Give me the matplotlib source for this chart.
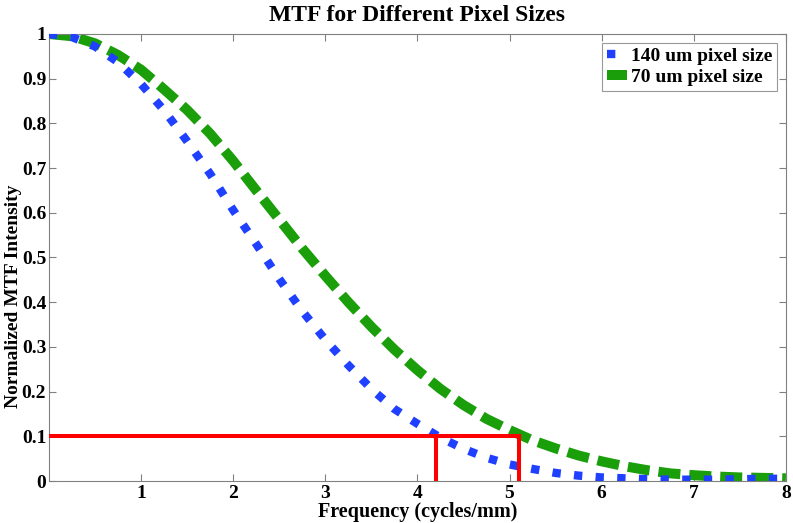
import matplotlib
matplotlib.use("Agg")
import matplotlib.pyplot as plt

freq = [0.0, 0.25, 0.5, 0.75, 1.0, 1.25, 1.5, 1.75, 2.0, 2.25, 2.5, 2.75, 3.0,
        3.25, 3.5, 3.75, 4.0, 4.25, 4.5, 4.75, 5.0, 5.25, 5.5, 5.75, 6.0,
        6.25, 6.5, 6.75, 7.0, 7.25, 7.5, 7.75, 8.0]
mtf_140 = [1.0, 0.993, 0.972, 0.937, 0.888, 0.829, 0.760, 0.687, 0.606, 0.530,
           0.452, 0.380, 0.316, 0.259, 0.206, 0.161, 0.128, 0.097, 0.072, 0.052,
           0.037, 0.027, 0.018, 0.012, 0.008, 0.006, 0.004, 0.003, 0.003, 0.003,
           0.004, 0.005, 0.005]
mtf_70 = [1.0, 0.995, 0.979, 0.953, 0.920, 0.876, 0.830, 0.777, 0.716, 0.650,
          0.585, 0.520, 0.459, 0.400, 0.345, 0.294, 0.248, 0.206, 0.170, 0.139,
          0.114, 0.091, 0.073, 0.057, 0.044, 0.033, 0.024, 0.017, 0.013, 0.010,
          0.008, 0.007, 0.006]
threshold = 0.1
cutoff_140 = 4.2
cutoff_70 = 5.1
labels = ["140 um pixel size", "70 um pixel size"]
xticks = [1, 2, 3, 4, 5, 6, 7, 8]
yticks = [0, 0.1, 0.2, 0.3, 0.4, 0.5, 0.6, 0.7, 0.8, 0.9, 1]
yticklabels = ['0', '0.1', '0.2', '0.3', '0.4', '0.5', '0.6', '0.7', '0.8', '0.9', '1']

plt.rcParams['font.family'] = ['Liberation Serif', 'DejaVu Serif']
plt.rcParams['font.weight'] = 'bold'

fig = plt.figure(figsize=(7.93, 5.23), dpi=100)
ax = fig.add_axes([0.0618, 0.0803, 0.9292, 0.8547])

blue = '#2040ff'
green = '#1a9e0a'
ax.plot(freq, mtf_140, color=blue, lw=6.0, linestyle=(0, (1.0, 1.6)),
        dash_capstyle='butt', label=labels[0], zorder=3)
ax.plot(freq, mtf_70, color=green, lw=7.2, linestyle=(0, (2.2, 0.9)),
        dash_capstyle='butt', label=labels[1], zorder=2)

red = '#ff0000'
ax.plot([0, cutoff_70], [threshold, threshold], color=red, lw=2.9, zorder=4)
ax.plot([cutoff_140, cutoff_140], [0, threshold], color=red, lw=2.9, zorder=4)
ax.plot([cutoff_70, cutoff_70], [0, threshold], color=red, lw=2.9, zorder=4)

ax.set_xlim(0, 8)
ax.set_ylim(0, 1)
ax.set_xticks(xticks)
ax.set_xticklabels([str(t) for t in xticks])
ax.set_yticks(yticks)
ax.set_yticklabels(yticklabels)
ax.tick_params(direction='in', length=5, width=0.8, color='#808080',
               top=True, right=True, labelsize=14)
ax.tick_params(axis='y', pad=2)
ax.tick_params(axis='x', pad=3)
for s in ax.spines.values():
    s.set_color('#808080')
    s.set_linewidth(0.8)

ax.set_title('MTF for Different Pixel Sizes', fontsize=17, fontweight='bold', pad=9)
ax.set_xlabel('Frequency (cycles/mm)', fontsize=14.5, fontweight='bold')
ax.xaxis.set_label_coords(0.5, -0.046)
ax.set_ylabel('Normalized MTF Intensity', fontsize=14, fontweight='bold')
ax.yaxis.set_label_coords(-0.0365, 0.414)

leg = ax.legend(loc='upper right', fontsize=14,
                frameon=True, fancybox=False, edgecolor='#808080',
                handlelength=1.05, handletextpad=0.2, borderpad=0.25,
                labelspacing=0.15, borderaxespad=0.45)
leg.get_frame().set_linewidth(0.8)

fig.savefig('out.png', dpi=100)
